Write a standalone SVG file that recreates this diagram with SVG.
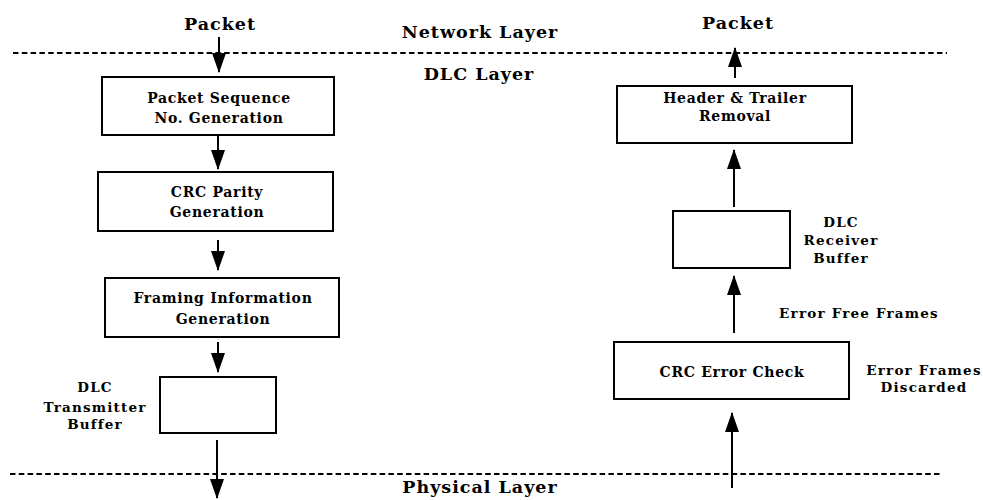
<svg xmlns="http://www.w3.org/2000/svg" width="983" height="500" viewBox="0 0 983 500">
  <defs>
    <marker id="head" markerUnits="userSpaceOnUse" markerWidth="20" markerHeight="16" viewBox="0 0 20 16" refX="19" refY="8" orient="auto">
      <path d="M0,1 L20,8 L0,15 Z" fill="#000"/>
    </marker>
    <style>
      text { font-family: "DejaVu Serif", "Liberation Serif", serif; font-weight: bold; fill: #000; text-anchor: middle; }
      .layer { font-size: 17.5px; letter-spacing: 1px; }
      .box-label { font-size: 14px; letter-spacing: 0.7px; }
      .side { font-size: 13.5px; letter-spacing: 1.2px; }
      .box { fill: #fff; stroke: #000; stroke-width: 2; }
      .divider { stroke: #000; stroke-width: 2; stroke-dasharray: 5.5 3.3; fill: none; }
      .flow { stroke: #000; stroke-width: 2; fill: none; marker-end: url(#head); }
    </style>
  </defs>

  <!-- layer boundaries -->
  <g id="layers">
    <line class="divider" x1="13" y1="53" x2="947" y2="53"/>
    <line class="divider" x1="10" y1="474" x2="940" y2="474"/>
    <text class="layer" x="480" y="38">Network Layer</text>
    <text class="layer" x="479" y="80">DLC Layer</text>
    <text class="layer" x="480" y="493">Physical Layer</text>
    <text class="layer" x="220" y="30">Packet</text>
    <text class="layer" x="738" y="29">Packet</text>
  </g>

  <!-- transmit side -->
  <g id="seq-gen">
    <rect class="box" x="102" y="77" width="232" height="58"/>
    <text class="box-label" x="219" y="103">Packet Sequence</text>
    <text class="box-label" x="219" y="123">No. Generation</text>
  </g>
  <g id="crc-gen">
    <rect class="box" x="98" y="172" width="235" height="59"/>
    <text class="box-label" x="217" y="197">CRC Parity</text>
    <text class="box-label" x="217" y="217">Generation</text>
  </g>
  <g id="framing">
    <rect class="box" x="105" y="278" width="234" height="59"/>
    <text class="box-label" x="223" y="303">Framing Information</text>
    <text class="box-label" x="223" y="324">Generation</text>
  </g>
  <g id="tx-buffer">
    <rect class="box" x="160" y="377" width="116" height="56"/>
    <text class="side" x="95" y="392">DLC</text>
    <text class="side" x="95" y="412">Transmitter</text>
    <text class="side" x="95" y="429">Buffer</text>
  </g>

  <!-- receive side -->
  <g id="hdr-removal">
    <rect class="box" x="617" y="86" width="235" height="57"/>
    <text class="box-label" x="735" y="103">Header &amp; Trailer</text>
    <text class="box-label" x="735" y="121">Removal</text>
  </g>
  <g id="rx-buffer">
    <rect class="box" x="673" y="211" width="117" height="57"/>
    <text class="side" x="841" y="227">DLC</text>
    <text class="side" x="841" y="245">Receiver</text>
    <text class="side" x="841" y="263">Buffer</text>
  </g>
  <g id="crc-check">
    <rect class="box" x="614" y="342" width="235" height="57"/>
    <text class="box-label" x="732" y="377">CRC Error Check</text>
    <text class="side" x="924" y="375">Error Frames</text>
    <text class="side" x="924" y="392">Discarded</text>
  </g>
  <text class="side" x="859" y="318">Error Free Frames</text>

  <!-- connectors -->
  <g id="connectors">
    <line class="flow" x1="219" y1="37" x2="219" y2="72"/>
    <line class="flow" x1="218" y1="135" x2="218" y2="169"/>
    <line class="flow" x1="218" y1="240" x2="218" y2="270"/>
    <line class="flow" x1="218" y1="342" x2="218" y2="372"/>
    <line class="flow" x1="217" y1="440" x2="217" y2="498"/>
    <line class="flow" x1="735" y1="78" x2="735" y2="48"/>
    <line class="flow" x1="734" y1="207" x2="734" y2="150"/>
    <line class="flow" x1="734" y1="333" x2="734" y2="276"/>
    <line class="flow" x1="732" y1="488" x2="732" y2="413"/>
  </g>
</svg>
